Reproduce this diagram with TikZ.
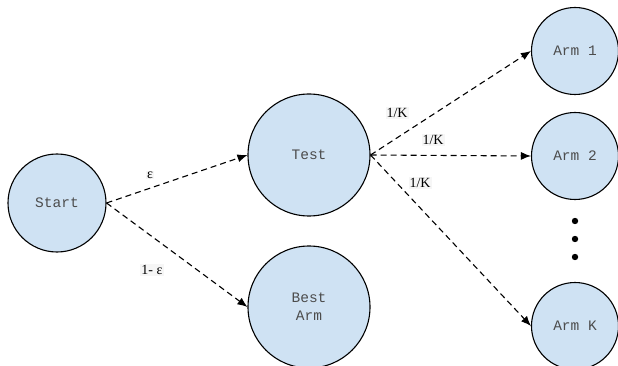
\documentclass[tikz,border=0pt]{standalone}
\usepackage{fontspec}
\setmainfont{Liberation Serif}
\setmonofont{Liberation Mono}
\usetikzlibrary{arrows.meta}
\definecolor{nodeblue}{RGB}{207,226,243}
\definecolor{lblgray}{RGB}{246,246,246}

\tikzset{%
  >={Latex[length=10pt,width=8pt]},
  state/.style={circle, draw=black, fill=nodeblue, line width=1.1pt,
    inner sep=0pt, align=center, font=\fontsize{14.5}{18}\selectfont\ttfamily\color{black!70}},
  edge/.style={->, dashed, line width=1.1pt, dash pattern=on 6pt off 4pt},
  lbl/.style={fill=lblgray, inner sep=1pt, font=\fontsize{14}{16}\selectfont}
}

\begin{document}
\begin{tikzpicture}[x=1pt,y=-1pt]
     \useasboundingbox (0,0) rectangle (618,366);
     \node[state, minimum size=98pt]  (start) at (57,203)  {Start};
     \node[state, minimum size=122pt] (test)  at (309,155) {Test};
     \node[state, minimum size=122pt] (best)  at (309,307) {Best\\Arm};
     \foreach \n/\y/\t in {arm1/51/Arm 1, arm2/156/Arm 2, armk/326/Arm K}
       \node[state, minimum size=87pt] (\n) at (575,\y) {\t};
     \foreach \y in {221,239,257}
       \fill (575,\y) circle (3.2pt);

     \draw[edge] (start.east) -- (test.west);
     \draw[edge] (start.east) -- (best.west);
     \draw[edge] (test.east) -- (arm1.west);
     \draw[edge] (test.east) -- (arm2.west);
     \draw[edge] (test.east) -- (armk.west);

     \node[lbl] (eps)  at (150,175) {ε};
     \node[lbl] (neps) at (152,270) {1- ε};
     \node[lbl] (p1)   at (397,113) {1/K};
     \node[lbl] (p2)   at (433,140) {1/K};
     \node[lbl] (pk)   at (420,183) {1/K};
\end{tikzpicture}
\end{document}
